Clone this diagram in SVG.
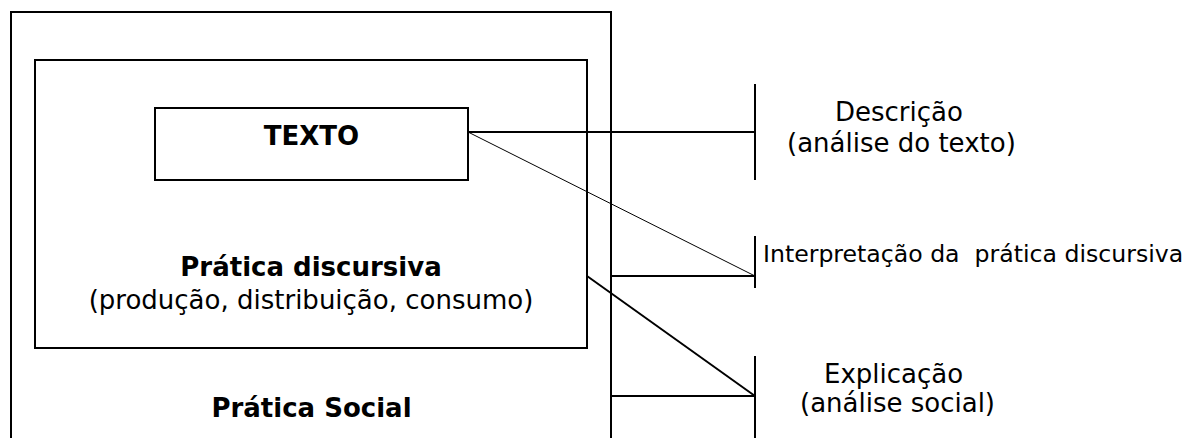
<svg xmlns="http://www.w3.org/2000/svg" width="1193" height="438" viewBox="0 0 1193 438">
<style>
.box{fill:none;stroke:#000;stroke-width:2}
.ln{stroke:#000;stroke-width:2;fill:none}
.thin{stroke:#000;stroke-width:1;fill:none}
text{font-family:"DejaVu Sans","Verdana",sans-serif;fill:#000;font-size:26px}
.b{font-weight:bold}
.m{text-anchor:middle}
</style>
<rect width="1193" height="438" fill="#fff"/>
<g id="pratica-social">
<rect class="box" x="11" y="12" width="600" height="440"/>
<text class="b m" x="311.5" y="417">Prática Social</text>
</g>
<g id="pratica-discursiva">
<rect class="box" x="35" y="60" width="552" height="288"/>
<text class="b m" x="311" y="276">Prática discursiva</text>
<text class="m" x="311" y="309">(produção, distribuição, consumo)</text>
</g>
<g id="texto">
<rect class="box" x="155" y="108" width="313" height="72"/>
<text class="b m" x="311.5" y="145">TEXTO</text>
</g>
<g id="connectors">
<line class="ln" x1="468" y1="132" x2="755" y2="132"/>
<line class="thin" x1="468" y1="132" x2="755" y2="276"/>
<line class="ln" x1="612" y1="276" x2="755" y2="276"/>
<line class="ln" x1="587" y1="276" x2="755" y2="396"/>
<line class="ln" x1="612" y1="396" x2="755" y2="396"/>
<line class="ln" x1="755" y1="84" x2="755" y2="180"/>
<line class="ln" x1="755" y1="236" x2="755" y2="288"/>
<line class="ln" x1="755" y1="356" x2="755" y2="440"/>
</g>
<g id="descricao">
<text x="835" y="121">Descrição</text>
<text x="787" y="152">(análise do texto)</text>
</g>
<g id="interpretacao">
<text x="763" y="262" style="font-size:23.6px" xml:space="preserve">Interpretação da  prática discursiva</text>
</g>
<g id="explicacao">
<text x="824" y="383">Explicação</text>
<text x="800" y="412">(análise social)</text>
</g>
</svg>
